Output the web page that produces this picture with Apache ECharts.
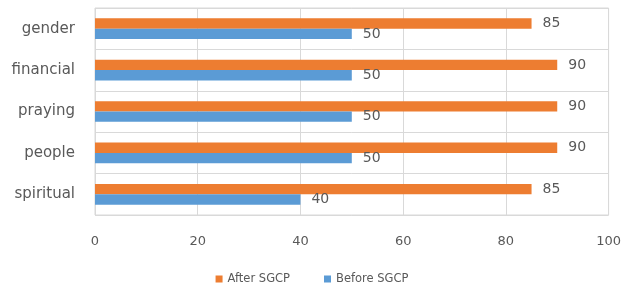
<!DOCTYPE html>
<html>
<head>
<meta charset="utf-8">
<script src="https://cdn.jsdelivr.net/npm/echarts@6/dist/echarts.min.js"></script>
<style>
  html, body { margin: 0; padding: 0; background: #fff; }
  #chart { width: 624px; height: 294px; }
</style>
</head>
<body>
<div id="chart"></div>
<script>
// categories listed bottom to top, as the category axis draws them
var categories = ['spiritual', 'people', 'praying', 'financial', 'gender']
var afterSGCP = [85, 90, 90, 90, 85]
var beforeSGCP = [40, 50, 50, 50, 50]
var xTicks = [0, 20, 40, 60, 80, 100]

var textColor = '#595959'
var lineColor = '#d9d9d9'
var font = 'DejaVu Sans'

var myChart = echarts.init(document.getElementById('chart'))
var option = {
  backgroundColor: '#fff',
  textStyle: { fontFamily: font },
  animation: false,
  grid: {
    left: 95,
    right: 14,
    top: 8,
    bottom: 79,
    show: true,
    borderColor: lineColor,
    borderWidth: 1
  },
  legend: {
    bottom: 4,
    left: 'center',
    itemWidth: 7,
    itemHeight: 7,
    itemGap: 34,
    itemStyle: { borderWidth: 0 },
    icon: 'rect',
    textStyle: { color: textColor, fontSize: 11.5, fontFamily: font },
    data: ['After SGCP', 'Before SGCP']
  },
  xAxis: {
    type: 'value',
    min: xTicks[0],
    max: xTicks[xTicks.length - 1],
    interval: 20,
    axisLine: { show: false },
    axisTick: { show: false },
    splitLine: { show: true, lineStyle: { color: lineColor, width: 1 } },
    axisLabel: { color: textColor, fontSize: 13, margin: 20, fontFamily: font }
  },
  yAxis: {
    type: 'category',
    data: categories,
    axisLine: { show: false },
    axisTick: { show: false },
    splitLine: { show: true, lineStyle: { color: lineColor, width: 1 } },
    axisLabel: { color: textColor, fontSize: 15, margin: 20, fontFamily: font }
  },
  series: [
    {
      name: 'After SGCP',
      type: 'bar',
      data: afterSGCP,
      barGap: '0%',
      barCategoryGap: '50%',
      itemStyle: { color: '#ed7d31' },
      label: { show: true, position: 'right', distance: 11, color: textColor, fontSize: 14, fontFamily: font }
    },
    {
      name: 'Before SGCP',
      type: 'bar',
      data: beforeSGCP,
      barGap: '0%',
      barCategoryGap: '50%',
      itemStyle: { color: '#5b9bd5' },
      label: { show: true, position: 'right', distance: 11, color: textColor, fontSize: 14, fontFamily: font }
    }
  ]
}
myChart.setOption(option)
</script>
</body>
</html>
